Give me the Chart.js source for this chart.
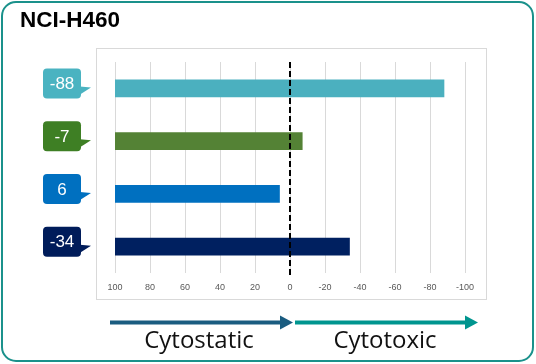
<!DOCTYPE html>
<html>
<head>
<meta charset="utf-8">
<script src="https://cdn.jsdelivr.net/npm/chart.js@4/dist/chart.umd.min.js"></script>
<style>
  html, body { margin: 0; padding: 0; background: #ffffff; }
  #wrap { position: relative; width: 536px; height: 364px; overflow: hidden; }
  canvas { position: absolute; left: 0; top: 0; }
  .title { position: absolute; left: 20px; top: 9px; font: bold 22.5px "Liberation Sans", Arial, sans-serif; line-height: 22px; color: #000; }
  .cap { position: absolute; top: 324px; font: 24px "Open Sans", Lato, sans-serif; line-height: 30px; color: #111; text-align: center; width: 180px; }
</style>
</head>
<body>
<div id="wrap">
  <canvas id="c" width="536" height="364"></canvas>
  <div class="title">NCI-H460</div>
  <div class="cap" style="left:109px">Cytostatic</div>
  <div class="cap" style="left:295px">Cytotoxic</div>
</div>
<script>
const categories = ['Series 1', 'Series 2', 'Series 3', 'Series 4'];
const values = [-88, -7, 6, -34];
const barColors = ['#4bb0bf', '#548235', '#0070c0', '#002060'];
const labelColors = ['#4ab3c1', '#3e7f24', '#0070c0', '#001c5a'];
const tickValues = [100, 80, 60, 40, 20, 0, -20, -40, -60, -80, -100];
const axisStart = 100;

const decor = {
  id: 'decor',
  beforeDraw(chart) {
    const ctx = chart.ctx;
    ctx.save();
    ctx.strokeStyle = '#1a918b';
    ctx.lineWidth = 2;
    ctx.beginPath();
    ctx.roundRect(2, 2, 531, 359, 14);
    ctx.stroke();
    ctx.strokeStyle = '#d9d9d9';
    ctx.lineWidth = 1;
    ctx.strokeRect(96.5, 48.5, 390, 251);
    ctx.restore();
  },
  afterDatasetsDraw(chart) {
    const ctx = chart.ctx;
    const xs = chart.scales.x, ys = chart.scales.y;
    const area = chart.chartArea;
    ctx.save();
    const x0 = Math.round(xs.getPixelForValue(0));
    ctx.strokeStyle = '#000';
    ctx.lineWidth = 2;
    ctx.setLineDash([6, 3]);
    ctx.beginPath();
    ctx.moveTo(x0, area.top);
    ctx.lineTo(x0, area.bottom + 2);
    ctx.stroke();
    ctx.setLineDash([]);
    values.forEach((v, i) => {
      const cy = ys.getPixelForValue(i);
      const bx = 43, bw = 38, bh = 30, by = cy - 20;
      ctx.fillStyle = labelColors[i];
      ctx.beginPath();
      ctx.roundRect(bx, by, bw, bh, 4);
      ctx.fill();
      ctx.beginPath();
      ctx.moveTo(bx + bw - 1, cy - 2);
      ctx.lineTo(bx + bw + 10, cy - 1);
      ctx.lineTo(bx + bw - 1, cy + 6);
      ctx.closePath();
      ctx.fill();
      ctx.fillStyle = '#ffffff';
      ctx.font = '17px "Liberation Sans", Arial, sans-serif';
      ctx.textAlign = 'center';
      ctx.textBaseline = 'middle';
      ctx.fillText(String(v), bx + bw / 2, by + bh / 2 + 1);
    });
    const ay = 322.5;
    function arrow(x1, x2, color) {
      ctx.fillStyle = color;
      ctx.fillRect(x1, ay - 2, x2 - 12 - x1, 4);
      ctx.beginPath();
      ctx.moveTo(x2 - 13, ay - 7);
      ctx.lineTo(x2, ay);
      ctx.lineTo(x2 - 13, ay + 7);
      ctx.closePath();
      ctx.fill();
    }
    arrow(area.left - 5, x0 + 3, '#1a5c80');
    arrow(x0 + 5, area.right + 13, '#00958f');
    ctx.restore();
  }
};

new Chart(document.getElementById('c'), {
  type: 'bar',
  data: {
    labels: categories,
    datasets: [{
      data: values.map(v => [axisStart, v]),
      backgroundColor: barColors,
      borderWidth: 0,
      borderSkipped: false,
      barThickness: 17
    }]
  },
  options: {
    indexAxis: 'y',
    responsive: false,
    animation: false,
    devicePixelRatio: 1,
    layout: { padding: { left: 115, right: 71, top: 62, bottom: 0 } },
    plugins: { legend: { display: false }, tooltip: { enabled: false }, title: { display: false } },
    scales: {
      x: {
        min: -100, max: 100, reverse: true,
        afterBuildTicks(scale) { scale.ticks = tickValues.map(v => ({ value: v })); },
        afterFit(scale) { scale.height = 91; },
        grid: { color: '#d9d9d9', lineWidth: 1, drawTicks: false },
        border: { display: false },
        ticks: { padding: 9, color: '#595959', font: { size: 9, family: '"Liberation Sans", Arial, sans-serif' } }
      },
      y: { display: false }
    }
  },
  plugins: [decor]
});
</script>
</body>
</html>
